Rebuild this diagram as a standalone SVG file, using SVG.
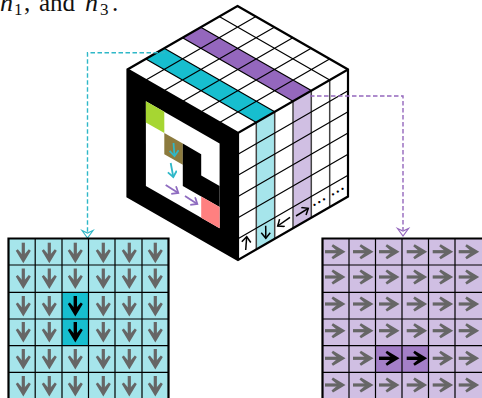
<svg xmlns="http://www.w3.org/2000/svg" xmlns:xlink="http://www.w3.org/1999/xlink" width="482" height="398" viewBox="0 0 482 398">
<style>
.l{stroke:#000;stroke-width:1.2;fill:none}
.v{stroke:#444;stroke-width:1.5;fill:none}
.o{stroke:#000;stroke-width:2.2;fill:none;stroke-linejoin:miter}
.g{stroke:#666;stroke-width:3.2;fill:none}
.gh{fill:#666}
.k{stroke:#000;stroke-width:3.4;fill:none}
.kh{fill:#000}
.s{stroke:#000;stroke-width:1.5;fill:none;marker-end:url(#hk)}
.sc{stroke:#2fb8c8;stroke-width:1.8;fill:none;marker-end:url(#hc)}
.sp{stroke:#8f6cc0;stroke-width:1.8;fill:none;marker-end:url(#hp)}
.dc{stroke:#2fb8c8;stroke-width:1.4;stroke-dasharray:4.5 2.5;fill:none}
.dp{stroke:#9467bd;stroke-width:1.4;stroke-dasharray:4.5 2.5;fill:none}
.t{font-family:"Liberation Serif",serif;fill:#111}
.dots{font-family:"Liberation Serif",serif;font-size:14px;font-weight:bold;letter-spacing:2px;fill:#000}
</style>
<defs>
<marker id="hk" markerUnits="userSpaceOnUse" markerWidth="12" markerHeight="12" refX="7" refY="5" orient="auto"><path d="M1.5,0.5L7,5L1.5,9.5" fill="none" stroke="#000" stroke-width="1.5"/></marker>
<marker id="hc" markerUnits="userSpaceOnUse" markerWidth="12" markerHeight="12" refX="7" refY="5" orient="auto"><path d="M1.5,0.5L7,5L1.5,9.5" fill="none" stroke="#2fb8c8" stroke-width="1.8"/></marker>
<marker id="hp" markerUnits="userSpaceOnUse" markerWidth="12" markerHeight="12" refX="7" refY="5" orient="auto"><path d="M1.5,0.5L7,5L1.5,9.5" fill="none" stroke="#8f6cc0" stroke-width="1.8"/></marker>
<g id="ad"><path class="g" d="M0,0V15"/><path class="gh" d="M-7.5,8L-5.5,6.5L0,13L5.5,6.5L7.5,8L0,20.5Z"/></g>
<g id="ar"><path class="g" d="M0,0H15"/><path class="gh" d="M8,-7.5L6.5,-5.5L13,0L6.5,5.5L8,7.5L20.5,0Z"/></g>
<g id="kd"><path class="k" d="M0,0V15"/><path class="kh" d="M-7.5,8L-5.5,6.5L0,13L5.5,6.5L7.5,8L0,20.5Z"/></g>
<g id="kr"><path class="k" d="M0,0H15"/><path class="kh" d="M8,-7.5L6.5,-5.5L13,0L6.5,5.5L8,7.5L20.5,0Z"/></g>
</defs>
<rect width="482" height="398" fill="#fff"/>
<text class="t" font-size="25" y="11"><tspan x="0" font-size="26" font-style="italic">n</tspan><tspan x="14" y="15" font-size="17">1</tspan><tspan x="24" y="11">,</tspan><tspan x="39" y="11">and</tspan><tspan x="85" y="11" font-size="26" font-style="italic">n</tspan><tspan x="100" y="15" font-size="17">3</tspan><tspan x="112" y="11">.</tspan></text>

<g id="cube-top">
<polygon points="237.5,6 348,69.5 238,133 127.5,69.5" fill="#fff"/>
<polygon points="200.8,27.2 182.5,37.7 293,101.2 311.3,90.6" fill="#9467bd"/>
<polygon points="164.2,48.3 145.9,58.9 256.4,122.4 274.7,111.8" fill="#17becf"/>
<path class="l" d="M255.9,16.6L145.9,80.1M274.3,27.2L164.3,90.6M292.8,37.7L182.8,101.2M311.2,48.3L201.2,111.8M329.6,58.9L219.6,122.4M219.2,16.6L329.7,80.1M200.8,27.2L311.3,90.6M182.5,37.7L293,101.2M164.2,48.3L274.7,111.8M145.9,58.9L256.4,122.4"/>
</g>

<g id="cube-right">
<polygon points="238,133 348,69.5 348,196.5 238,260" fill="#fff"/>
<polygon points="256.3,122.4 274.7,111.8 274.7,238.8 256.3,249.4" fill="#a6e5eb"/>
<polygon points="293,101.2 311.3,90.7 311.3,217.7 293,228.3" fill="#d0bfe3"/>
<path class="v" d="M256.3,122.4V249.4M274.7,111.8V238.8M293,101.2V228.3M311.3,90.7V217.7M329.7,80.1V207.1"/>
<path class="l" d="M238,154.2L348,90.7M238,175.3L348,111.8M238,196.5L348,133M238,217.7L348,154.2M238,238.8L348,175.3"/>
<path class="s" d="M245.7,250L246.7,236.7"/>
<path class="s" d="M265.7,225.7L265.8,238.3"/>
<path class="s" d="M290,217.3L277.7,226"/>
<path class="s" d="M296,216L308.3,208.3"/>
<text class="dots" transform="translate(313.5,206.5) rotate(-30)">...</text>
<text class="dots" transform="translate(332,196) rotate(-30)">...</text>
</g>

<g id="cube-left">
<polygon points="127.5,69.5 238,133 238,260 127.5,196.5" fill="#000"/>
<polygon points="145.9,101.25 219.6,143.6 219.6,228.3 145.9,186" fill="#fff"/>
<polygon points="145.9,101.25 164.3,111.8 164.3,133 145.9,122.4" fill="#a6d632"/>
<polygon points="164.3,133 182.8,143.6 182.8,164.8 164.3,154.2" fill="#8c7b3e"/>
<polygon points="182.8,143.6 201.2,154.2 201.2,175.4 219.6,186 219.6,207.1 182.8,186" fill="#000"/>
<polygon points="201.2,196.5 219.6,207.1 219.6,228.3 201.2,217.7" fill="#ff8080"/>
<path class="sc" d="M173.5,143L174.5,156"/>
<path class="sc" d="M170.7,163L173.3,177"/>
<path class="sp" d="M165.7,185L178.3,193"/>
<path class="sp" d="M185,196L197.3,204"/>
</g>
<path class="o" d="M237.5,6L348,69.5V196.5L238,260L127.5,196.5V69.5Z"/>
<path class="o" d="M127.5,69.5L238,133L348,69.5M238,133V260" stroke-width="1.4"/>

<g id="connectors">
<path class="dc" d="M165,52.8H87.5V232"/>
<path d="M82,230.5L87.5,238L93,230.5L87.5,233Z" fill="#fff" stroke="#2fb8c8" stroke-width="1.2"/>
<path class="dp" d="M310,96H403V230"/>
<path d="M397.5,228.5L403,236L408.5,228.5L403,231Z" fill="#fff" stroke="#9467bd" stroke-width="1.2"/>
</g>

<g id="grid-cyan">
<rect x="8.5" y="238.5" width="160" height="160" fill="#a6e5eb"/>
<rect x="62" y="292.3" width="26.5" height="53.4" fill="#17becf"/>
<path class="l" d="M35.2,238.5V398M62,238.5V398M88.5,238.5V398M115,238.5V398M142,238.5V398M8.5,265H168.5M8.5,292.3H168.5M8.5,319H168.5M8.5,345.7H168.5M8.5,372.3H168.5"/>
<path class="o" d="M8.5,398V238.5H168.5V398"/>
<use href="#ad" x="23.3" y="242.7"/><use href="#ad" x="49.3" y="242.7"/><use href="#ad" x="75.3" y="242.7"/><use href="#ad" x="103.3" y="242.7"/><use href="#ad" x="129.3" y="242.7"/><use href="#ad" x="155.3" y="242.7"/>
<use href="#ad" x="23.3" y="268.5"/><use href="#ad" x="49.3" y="268.5"/><use href="#ad" x="75.3" y="268.5"/><use href="#ad" x="103.3" y="268.5"/><use href="#ad" x="129.3" y="268.5"/><use href="#ad" x="155.3" y="268.5"/>
<use href="#ad" x="23.3" y="296"/><use href="#ad" x="49.3" y="296"/><use href="#kd" x="75.3" y="296"/><use href="#ad" x="103.3" y="296"/><use href="#ad" x="129.3" y="296"/><use href="#ad" x="155.3" y="296"/>
<use href="#ad" x="23.3" y="322"/><use href="#ad" x="49.3" y="322"/><use href="#kd" x="75.3" y="322"/><use href="#ad" x="103.3" y="322"/><use href="#ad" x="129.3" y="322"/><use href="#ad" x="155.3" y="322"/>
<use href="#ad" x="23.3" y="349"/><use href="#ad" x="49.3" y="349"/><use href="#ad" x="75.3" y="349"/><use href="#ad" x="103.3" y="349"/><use href="#ad" x="129.3" y="349"/><use href="#ad" x="155.3" y="349"/>
<use href="#ad" x="23.3" y="376"/><use href="#ad" x="49.3" y="376"/><use href="#ad" x="75.3" y="376"/><use href="#ad" x="103.3" y="376"/><use href="#ad" x="129.3" y="376"/><use href="#ad" x="155.3" y="376"/>
</g>

<g id="grid-purple">
<rect x="322.5" y="238.5" width="159.5" height="160" fill="#d0bfe3"/>
<rect x="375.5" y="345.7" width="53" height="26.6" fill="#a47fc8"/>
<path class="l" d="M349,238.5V398M375.5,238.5V398M402,238.5V398M428.5,238.5V398M455,238.5V398M322.5,265H482M322.5,292.3H482M322.5,319H482M322.5,345.7H482M322.5,372.3H482"/>
<path class="o" d="M322.5,398V238.5H482"/>
<use href="#ar" x="325" y="251.7"/><use href="#ar" x="353" y="251.7"/><use href="#ar" x="379" y="251.7"/><use href="#ar" x="406.7" y="251.7"/><use href="#ar" x="432.7" y="251.7"/><use href="#ar" x="458.7" y="251.7"/>
<use href="#ar" x="325" y="277"/><use href="#ar" x="353" y="277"/><use href="#ar" x="379" y="277"/><use href="#ar" x="406.7" y="277"/><use href="#ar" x="432.7" y="277"/><use href="#ar" x="458.7" y="277"/>
<use href="#ar" x="325" y="304"/><use href="#ar" x="353" y="304"/><use href="#ar" x="379" y="304"/><use href="#ar" x="406.7" y="304"/><use href="#ar" x="432.7" y="304"/><use href="#ar" x="458.7" y="304"/>
<use href="#ar" x="325" y="330.7"/><use href="#ar" x="353" y="330.7"/><use href="#ar" x="379" y="330.7"/><use href="#ar" x="406.7" y="330.7"/><use href="#ar" x="432.7" y="330.7"/><use href="#ar" x="458.7" y="330.7"/>
<use href="#ar" x="325" y="358.3"/><use href="#ar" x="353" y="358.3"/><use href="#kr" x="379" y="358.3"/><use href="#kr" x="406.7" y="358.3"/><use href="#ar" x="432.7" y="358.3"/><use href="#ar" x="458.7" y="358.3"/>
<use href="#ar" x="325" y="385"/><use href="#ar" x="353" y="385"/><use href="#ar" x="379" y="385"/><use href="#ar" x="406.7" y="385"/><use href="#ar" x="432.7" y="385"/><use href="#ar" x="458.7" y="385"/>
</g>
</svg>
